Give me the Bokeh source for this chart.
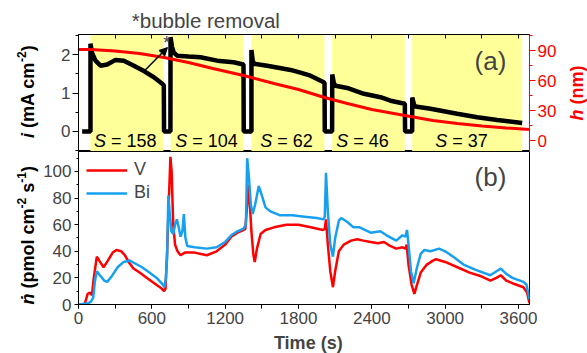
import math
from bokeh.plotting import figure
from bokeh.models import (Range1d, LinearAxis, SingleIntervalTicker, Label, Arrow,
                          NormalHead, CustomJSTickFormatter, Legend, LegendItem)
from bokeh.layouts import column, row
from bokeh.core.properties import value
from bokeh.embed import file_html
from bokeh.resources import INLINE

FONT = "Liberation Sans"

# ---------------- data ----------------
# electrolysis segments (yellow) and sputter factor S
seg_start = [98, 753, 1415, 2075, 2730]
seg_end = [695, 1350, 2013, 2670, 3630]
seg_label_x = [380, 1045, 1740, 2362, 3172]
seg_S = [158, 104, 62, 46, 37]

# current density i (mA cm^-2)
cur_t = [30, 98, 98, 110, 139, 180, 235, 303, 371, 453, 535, 617, 685, 698, 700,
         752, 753, 765, 780, 807, 900, 998, 1134, 1268, 1350, 1352,
         1415, 1415, 1425, 1435, 1543, 1680, 1735, 1816, 1898, 2007, 2013, 2015,
         2075, 2076, 2090, 2103, 2198, 2335, 2471, 2553, 2670, 2672,
         2730, 2731, 2745, 2757, 2880, 3098, 3262, 3426, 3630]
cur_i = [0, 0, 2.28, 2.05, 1.84, 1.71, 1.74, 1.86, 1.84, 1.71, 1.57, 1.41, 1.24, 1.2, 0,
         0, 2.45, 2.2, 2.05, 1.97, 1.95, 1.93, 1.84, 1.80, 1.74, 0,
         0, 2.12, 1.85, 1.76, 1.71, 1.63, 1.6, 1.53, 1.45, 1.28, 1.25, 0,
         0, 1.48, 1.25, 1.19, 1.13, 0.98, 0.89, 0.80, 0.72, 0,
         0, 0.88, 0.7, 0.65, 0.59, 0.46, 0.37, 0.30, 0.22]

# film thickness h (nm)
h_t = [0, 100, 300, 500, 700, 900, 1100, 1350, 1600, 1800, 2013, 2200, 2400, 2670,
       2900, 3100, 3300, 3500, 3690]
h_nm = [91, 91, 89.5, 87, 83, 78, 72, 65, 57, 51, 43, 37, 31, 25,
        20, 17, 14.5, 12.5, 11]

# dissolution rates (pmol cm^-2 s^-1)
v_t = [0, 50, 75, 95, 110, 125, 150, 170, 205, 240, 280, 310, 350, 380, 410, 450, 500,
       560, 620, 680, 700, 712, 725, 740, 752, 762, 775, 790, 810, 835, 870, 950, 1050,
       1130, 1200, 1250, 1300, 1350, 1365, 1380, 1390, 1400, 1415, 1430, 1442, 1460,
       1490, 1530, 1600, 1700, 1800, 1900, 2000, 2015, 2025, 2040, 2060, 2082, 2100,
       2130, 2170, 2230, 2280, 2330, 2390, 2450, 2500, 2550, 2600, 2650, 2675, 2685,
       2700, 2725, 2748, 2770, 2800, 2850, 2900, 2925, 3000, 3100, 3200, 3300, 3370,
       3420, 3455, 3500, 3550, 3640, 3670, 3690]
v_rate = [0, 0, 8, 9, 7, 20, 36, 33, 28, 33, 39, 41, 40, 37, 32, 27, 24,
          20, 16, 12, 10, 12, 40, 80, 111, 100, 60, 45, 40, 37, 39, 39, 37,
          40, 45, 51, 54, 56, 57, 75, 90, 78, 55, 38, 32, 42,
          53, 56, 58, 60, 60, 58, 56, 57, 64, 45, 25, 13, 25,
          40, 45, 48, 49, 48, 47, 46, 47, 44, 42, 43, 42, 45,
          30, 15, 8, 15, 24, 30, 33, 34, 32, 28, 24, 21, 18,
          20, 22, 18, 16, 13, 9, 1]
bi_t = [0, 80, 100, 120, 135, 150, 175, 210, 235, 270, 320, 370, 420, 460, 520, 580,
        640, 690, 705, 715, 725, 735, 745, 760, 775, 790, 805, 820, 835, 850, 862, 875,
        890, 950, 1050, 1130, 1200, 1250, 1300, 1350, 1370, 1380, 1395, 1410, 1425,
        1445, 1475, 1500, 1530, 1570, 1650, 1750, 1850, 1950, 2005, 2015, 2025, 2040,
        2060, 2082, 2100, 2130, 2150, 2200, 2250, 2300, 2390, 2470, 2520, 2600, 2650,
        2675, 2688, 2700, 2720, 2742, 2770, 2800, 2830, 2880, 2950, 3000, 3080, 3150,
        3250, 3370, 3420, 3455, 3500, 3550, 3640, 3665, 3690]
bi_rate = [0, 1, 2, 5, 18, 25, 22, 18, 17, 21, 28, 32, 33, 31, 28, 24,
           20, 15, 13, 20, 35, 82, 70, 55, 53, 60, 64, 58, 51, 55, 68, 50,
           44, 43, 42, 43, 47, 52, 55, 57, 60, 110, 95, 75, 68,
           75, 89, 82, 73, 70, 67, 67, 66, 65, 64, 66, 99, 70,
           45, 36, 50, 63, 65, 62, 58, 58, 54, 55, 52, 48, 52,
           51, 56, 45, 25, 16, 28, 38, 41, 40, 42, 40, 35, 30,
           26, 22, 25, 27, 23, 20, 17, 15, 4]

# annotation anchors (data units)
arrow_from = (540, 1.58)
arrow_to = (728, 2.18)
star_pos = (722, 2.31)

X_MAX = 3690
I_RANGE = (-0.52, 2.52)
H_RANGE = (-11, 106)
N_RANGE = (0, 115)

RED = "#FF0000"
BLUE = "#18A0F0"
YELLOW = "#FFFF99"

LW, MW, RW = 40, 525, 22       # widths of left text strip, plots, right text strip
TH, P1H, P2H, BH = 32, 119, 180, 22
TOTAL_H = TH + P1H + P2H + BH
MBL, MBR = 38, 36


def text_fig(w, h):
    f = figure(width=w, height=h, x_range=Range1d(0, w), y_range=Range1d(0, h),
               output_backend="svg", toolbar_location=None, min_border=0,
               x_axis_location=None, y_axis_location=None)
    f.outline_line_color = None
    f.grid.visible = False
    return f


def style_axis(ax, tick_out, minor_out, standoff):
    ax.major_tick_out = tick_out
    ax.major_tick_in = 0
    ax.minor_tick_out = minor_out
    ax.minor_tick_in = 0
    ax.major_label_standoff = standoff
    ax.major_label_text_font = FONT
    ax.major_label_text_font_size = "17px"


def vtext(f, x, y, pieces, color="black"):
    # rotated (bottom-to-top) multi-style text; pieces: (text, dy, dx, size, style)
    for text, dy, dx, size, style in pieces:
        f.add_layout(Label(x=x + dx, y=y + dy, text=text, angle=math.pi / 2,
                           text_font=FONT, text_font_size=size, text_font_style=style,
                           text_color=color, text_align="left", text_baseline="middle"))


# ---------------- top panel ----------------
p1 = figure(width=MW, height=P1H, output_backend="svg", toolbar_location=None,
            x_range=Range1d(0, X_MAX), y_range=Range1d(*I_RANGE),
            x_axis_location=None, y_axis_location=None,
            min_border_left=MBL, min_border_right=MBR, min_border_top=2, min_border_bottom=0)
p1.extra_y_ranges = {"h": Range1d(*H_RANGE)}
p1.grid.visible = False
p1.outline_line_color = "black"

p1.quad(left=seg_start, right=seg_end, bottom=I_RANGE[0] - 1, top=I_RANGE[1] + 1,
        fill_color=YELLOW, line_color=None)
p1.line(cur_t, cur_i, line_color="black", line_width=4.5)
p1.line(h_t, h_nm, line_color=RED, line_width=3, y_range_name="h")

ax_l = LinearAxis(ticker=SingleIntervalTicker(interval=1, num_minor_ticks=2))
ax_r = LinearAxis(y_range_name="h", ticker=SingleIntervalTicker(interval=30, num_minor_ticks=2))
ax_top = LinearAxis(ticker=SingleIntervalTicker(interval=300, num_minor_ticks=0),
                    formatter=CustomJSTickFormatter(code="return ''"))
style_axis(ax_l, 6, 3, 2)
style_axis(ax_r, 6, 3, 2)
ax_r.axis_line_color = RED
ax_r.major_tick_line_color = RED
ax_r.minor_tick_line_color = RED
ax_r.major_label_text_color = RED
ax_top.major_tick_in = 4
ax_top.major_tick_out = 0
ax_top.major_label_standoff = 0
ax_top.major_label_text_font_size = "0px"
p1.add_layout(ax_l, "left")
p1.add_layout(ax_r, "right")
p1.add_layout(ax_top, "above")

s_y = [-0.26] * len(seg_S)
p1.text(x=seg_label_x, y=s_y, text=["S"] * len(seg_S), x_offset=-31,
        text_font=value(FONT), text_font_style="italic", text_font_size="18px",
        text_align="left", text_baseline="middle", text_color="black")
p1.text(x=seg_label_x, y=s_y, text=["= %d" % s for s in seg_S], x_offset=-14,
        text_font=value(FONT), text_font_size="18px",
        text_align="left", text_baseline="middle", text_color="black")

p1.add_layout(Label(x=3371, y=1.84, text="(a)", text_font=FONT, text_font_size="26px",
                    text_align="center", text_baseline="middle"))
p1.add_layout(Label(x=star_pos[0], y=star_pos[1], text="*", text_font=FONT,
                    text_font_size="18px", text_align="center", text_baseline="middle"))
p1.add_layout(Arrow(x_start=arrow_from[0], y_start=arrow_from[1],
                    x_end=arrow_to[0], y_end=arrow_to[1], line_width=1.5,
                    end=NormalHead(size=8, fill_color="black", line_color="black")))

# ---------------- bottom panel ----------------
p2 = figure(width=MW, height=P2H, output_backend="svg", toolbar_location=None,
            x_range=Range1d(0, X_MAX), y_range=Range1d(*N_RANGE),
            x_axis_location=None, y_axis_location=None,
            min_border_left=MBL, min_border_right=MBR, min_border_top=0, min_border_bottom=27)
p2.grid.visible = False
p2.outline_line_color = "black"

rv = p2.line(v_t, v_rate, line_color=RED, line_width=2.5)
rb = p2.line(bi_t, bi_rate, line_color=BLUE, line_width=2.5)

bx_l = LinearAxis(ticker=SingleIntervalTicker(interval=20, num_minor_ticks=2))
bx_b = LinearAxis(ticker=SingleIntervalTicker(interval=600, num_minor_ticks=2))
style_axis(bx_l, 4, 2, 3)
style_axis(bx_b, 4, 4, 3)
p2.add_layout(bx_l, "left")
p2.add_layout(bx_b, "below")

leg = Legend(items=[LegendItem(label="V", renderers=[rv]),
                    LegendItem(label="Bi", renderers=[rb])],
             location="top_left", border_line_alpha=0, background_fill_alpha=0,
             label_text_font=FONT, label_text_font_size="18px",
             glyph_width=41, glyph_height=20, label_height=20, spacing=2,
             padding=8, margin=0, label_standoff=7)
p2.add_layout(leg)
p2.add_layout(Label(x=3371, y=96, text="(b)", text_font=FONT, text_font_size="26px",
                    text_align="center", text_baseline="middle"))

# ---------------- text strips ----------------
tt = text_fig(MW, TH)
tt.add_layout(Label(x=62, y=TH - 20.3, text="*bubble removal", text_font=FONT,
                    text_font_size="20.5px", text_align="left", text_baseline="middle"))

bt = text_fig(MW, BH)
bt.add_layout(Label(x=267.5, y=11, text="Time (s)", text_font=FONT, text_font_size="18px",
                    text_font_style="bold", text_align="center", text_baseline="middle"))

lt = text_fig(LW, TOTAL_H)
vtext(lt, 27, TOTAL_H - 137.5, [
    ("i", 0, 0, "18px", "bold italic"),
    ("(mA cm", 10, 0, "18px", "bold"),
    ("-2", 76, -6, "12px", "bold"),
    (")", 86.7, 0, "18px", "bold"),
])
vtext(lt, 27, TOTAL_H - 304, [
    ("\u1e45", 0, 0, "18px", "bold italic"),
    ("(pmol cm", 16, 0, "18px", "bold"),
    ("-2", 96, -6, "12px", "bold"),
    ("s", 111.7, 0, "18px", "bold"),
    ("-1", 121.7, -6, "12px", "bold"),
    (")", 132.4, 0, "18px", "bold"),
])

rt = text_fig(RW, TOTAL_H)
vtext(rt, 11, TOTAL_H - 120, [
    ("h", 0, 0, "18px", "bold italic"),
    ("(nm)", 16, 0, "18px", "bold"),
], color=RED)

layout = row(lt, column(tt, p1, p2, bt, spacing=0), rt, spacing=0)
open("out.html", "w").write(file_html(layout, INLINE))
